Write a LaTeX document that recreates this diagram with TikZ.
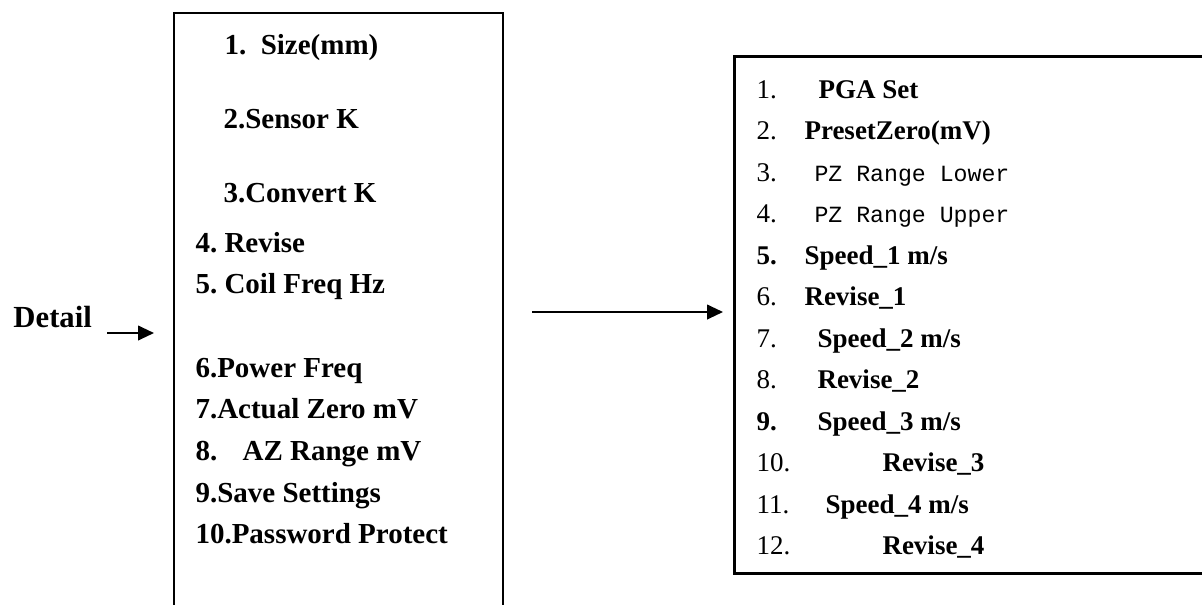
\documentclass[tikz,border=0pt]{standalone}
\usepackage{fontspec}
\setmainfont{Liberation Serif}
\setmonofont{Liberation Mono}
\usetikzlibrary{arrows.meta}
\frenchspacing

\tikzset{every picture/.style={line width=0.75pt}}
\tikzset{
  menubox/.style={draw, line width=1.5pt, inner sep=0pt, anchor=north west},
  leftitem/.style={anchor=base west, inner sep=0.75pt, font=\fontsize{21.75}{26}\selectfont\bfseries},
  rightitem/.style={anchor=base west, inner sep=0.75pt, font=\fontsize{20.25}{24}\selectfont\bfseries},
  rightnum/.style={anchor=base west, inner sep=0.75pt, font=\fontsize{20.25}{24}\selectfont},
  rightmono/.style={anchor=base west, inner sep=0.75pt, font=\fontsize{17.4}{21}\selectfont\ttfamily},
  menuarrow/.style={line width=1.5pt, -{Triangle[length=12pt,width=11pt]}}
}

\begin{document}
\begin{tikzpicture}[x=0.75pt,y=0.75pt,yscale=-1,xscale=1]
\useasboundingbox (0,0) rectangle (1202,604);
\clip (0,0) rectangle (1202,604);

%Shape: Rectangle [id:menu]
\node [menubox, minimum width=246.75pt, minimum height=471pt] (menu) at (173,12) {};
%Shape: Rectangle [id:detailmenu]
\node [menubox, line width=1.9pt, minimum width=365.25pt, minimum height=387.75pt] (detailmenu) at (733,55) {};

% Text Node
\node [leftitem, font=\fontsize{23}{27}\selectfont\bfseries] (detail) at (12,327) {Detail};
%Straight Lines [id:detailarrow]
\coordinate (dtail) at (107,333);
\draw [menuarrow, shorten >=14.25pt] (dtail) -- (dtail -| menu.west);
%Straight Lines [id:midarrow]
\coordinate (mtail) at (532,312);
\draw [menuarrow, shorten >=7.5pt] (mtail) -- (mtail -| detailmenu.west);

% Text Node
\node [leftitem] (size) at (223,54) {1.\ \ Size(mm)};
% Text Node
\node [leftitem] (sensork) at (222,128) {2.Sensor K};
% Text Node
\node [leftitem] (convertk) at (222,202) {3.Convert K};
% Text Node
\node [leftitem] (revise) at (194,252) {4. Revise};
% Text Node
\node [leftitem] (coilfreq) at (194,293) {5. Coil Freq Hz};
% Text Node
\node [leftitem] (powerfreq) at (194,377) {6.Power Freq};
% Text Node
\node [leftitem] (actualzero) at (194,418) {7.Actual Zero mV};
% Text Node
\node [leftitem] (azrange) at (194,460) {8.\hspace{19pt}AZ Range mV};
% Text Node
\node [leftitem] (savesettings) at (194,502) {9.Save Settings};
% Text Node
\node [leftitem] (password) at (194,543) {10.Password Protect};

% Text Node
\node [rightnum] (n1) at (755,98) {1.};
\node [rightitem] (pga) at (817,98) {PGA Set};
% Text Node
\node [rightnum] (n2) at (755,139.5) {2.};
\node [rightitem] (presetzero) at (803,139.5) {PresetZero(mV)};
% Text Node
\node [rightnum] (n3) at (755,181) {3.};
\node [rightmono] (pzlower) at (813,181) {PZ Range Lower};
% Text Node
\node [rightnum] (n4) at (755,222.5) {4.};
\node [rightmono] (pzupper) at (813,222.5) {PZ Range Upper};
% Text Node
\node [rightitem] (n5) at (755,264) {5.};
\node [rightitem] (speeda) at (803,264) {Speed\_1 m/s};
% Text Node
\node [rightnum] (n6) at (755,305.5) {6.};
\node [rightitem] (revisea) at (803,305.5) {Revise\_1};
% Text Node
\node [rightnum] (n7) at (755,347) {7.};
\node [rightitem] (speedb) at (816,347) {Speed\_2 m/s};
% Text Node
\node [rightnum] (n8) at (755,388.5) {8.};
\node [rightitem] (reviseb) at (816,388.5) {Revise\_2};
% Text Node
\node [rightitem] (n9) at (755,430) {9.};
\node [rightitem] (speedc) at (816,430) {Speed\_3 m/s};
% Text Node
\node [rightnum] (n10) at (755,471.5) {10.};
\node [rightitem] (revisec) at (881,471.5) {Revise\_3};
% Text Node
\node [rightnum] (n11) at (755,513) {11.};
\node [rightitem] (speedd) at (824,513) {Speed\_4 m/s};
% Text Node
\node [rightnum] (n12) at (755,554.5) {12.};
\node [rightitem] (revised) at (881,554.5) {Revise\_4};

\end{tikzpicture}
\end{document}
